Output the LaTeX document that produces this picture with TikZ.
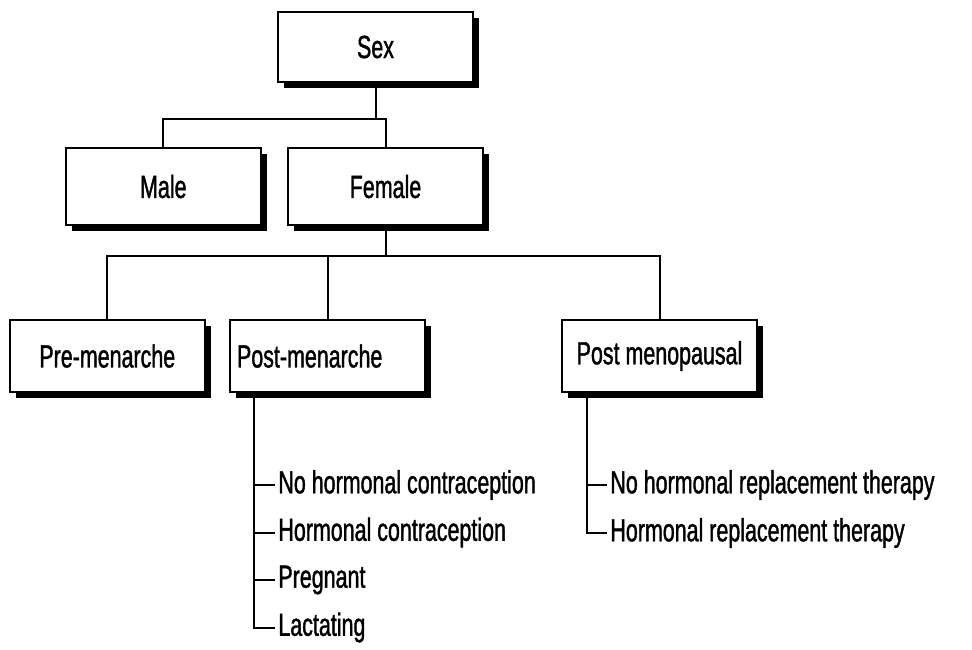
\documentclass[tikz,border=0pt]{standalone}
\usepackage{fontspec}
\setmainfont{Liberation Sans}[FakeStretch=0.67, FakeBold=1.2]
\usetikzlibrary{positioning, shadows, calc}

\begin{document}
\begin{tikzpicture}[
    x=0.5pt, y=-0.5pt,
    every node/.style={font=\fontsize{16}{19}\selectfont},
    box/.style={draw, line width=1.1pt, fill=white, rectangle, minimum width=97.5pt, minimum height=36pt,
        drop shadow={shadow xshift=3pt, shadow yshift=-3pt, fill=black, opacity=1}},
    tallbox/.style={box, minimum height=38.5pt},
    leftbox/.style={box, text width=90.5pt, align=left, inner xsep=3.5pt},
    item/.style={anchor=west, inner xsep=1.5pt, inner ysep=0pt},
    link/.style={line width=1pt}
]
\useasboundingbox (0,0) rectangle (972,649);

% Nodes
\node[box, minimum height=35pt] (sex) at (375.5,47) {Sex};
\node[tallbox] (female) at (385.5,186.5) {Female};
\node[tallbox, left=12.5pt of female] (male) {Male};
\node[leftbox] (postmen) at (327.5,356) {Post-menarche};
\node[box, left=11.5pt of postmen] (premen) {Pre-menarche};
\node[box] (postmeno) at (659.5,356) {Post menopausal};

% Sub-groups
\foreach \txt [count=\i] in {No hormonal contraception, Hormonal contraception, Pregnant, Lactating}
    \node[item] (pm\i) at (275, 437.5+47.5*\i) {\txt};
\foreach \txt [count=\i] in {No hormonal replacement therapy, Hormonal replacement therapy}
    \node[item] (mp\i) at (607, 437+48*\i) {\txt};

\coordinate (pmtrunk) at ([xshift=12.5pt]postmen.south west);
\coordinate (mptrunk) at ([xshift=13pt]postmeno.south west);

% Links
\draw[link] (sex.south) -- ++(0,36) -| (male.north);
\draw[link] (sex.south) -- ++(0,36) -| (female.north);
\draw[link] (female.south) -- ++(0,30) -| (premen.north);
\draw[link] (female.south) -- ++(0,30) -| (postmen.north);
\draw[link] (female.south) -- ++(0,30) -| (postmeno.north);

\draw[link] (pmtrunk) |- (pm4.west);
\foreach \i in {1,2,3}
    \draw[link] (pmtrunk |- pm\i.west) -- (pm\i.west);
\draw[link] (mptrunk) |- (mp2.west);
\draw[link] (mptrunk |- mp1.west) -- (mp1.west);

\end{tikzpicture}
\end{document}
